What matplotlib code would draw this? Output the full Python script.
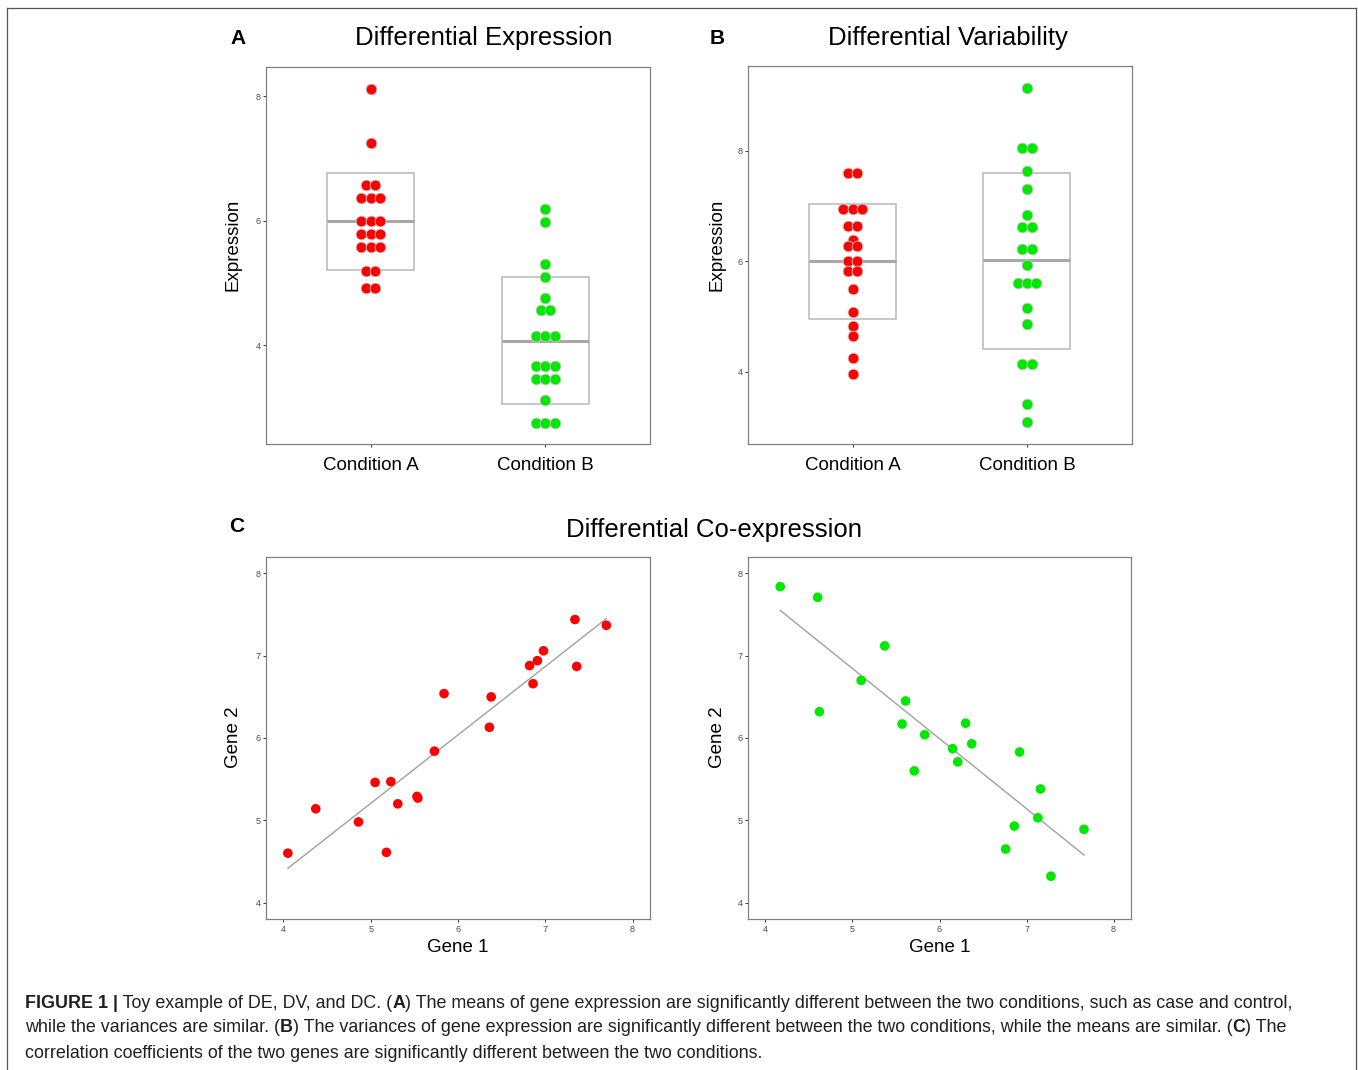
import numpy as np
import matplotlib
matplotlib.use('Agg')
import matplotlib.pyplot as plt
from matplotlib.patches import Rectangle
from matplotlib.lines import Line2D

# ---------------- data ----------------
categories = ['Condition A', 'Condition B']

# Panel A: differential expression
de_cond_a = [8.12, 7.25, 6.57, 6.57, 6.36, 6.36, 6.36, 6.00, 6.00, 6.00,
             5.78, 5.78, 5.78, 5.58, 5.58, 5.58, 5.19, 5.19, 4.91, 4.91]
de_cond_b = [6.19, 5.98, 5.30, 5.09, 4.75, 4.57, 4.57, 4.15, 4.15, 4.15,
             3.66, 3.66, 3.66, 3.45, 3.45, 3.45, 3.11, 2.75, 2.75, 2.75]
de_box_low = [5.21, 3.06]
de_box_mid = [6.00, 4.07]
de_box_high = [6.77, 5.09]

# Panel B: differential variability
dv_cond_a = [7.59, 7.59, 6.94, 6.94, 6.94, 6.63, 6.63, 6.39, 6.27, 6.27,
             6.00, 6.00, 5.82, 5.82, 5.50, 5.08, 4.82, 4.64, 4.25, 3.95]
dv_cond_b = [9.14, 8.04, 8.04, 7.63, 7.30, 6.83, 6.61, 6.61, 6.22, 6.22,
             5.93, 5.61, 5.61, 5.61, 5.15, 4.86, 4.14, 4.14, 3.42, 3.08]
dv_box_low = [4.96, 4.41]
dv_box_mid = [6.00, 6.02]
dv_box_high = [7.04, 7.60]

# Panel C: differential co-expression
dc_a_gene1 = [4.05, 4.37, 4.86, 5.05, 5.18, 5.23, 5.31, 5.53, 5.54, 5.73,
              5.84, 6.36, 6.38, 6.82, 6.86, 6.91, 6.98, 7.34, 7.36, 7.70]
dc_a_gene2 = [4.60, 5.14, 4.98, 5.46, 4.61, 5.47, 5.20, 5.29, 5.27, 5.84,
              6.54, 6.13, 6.50, 6.88, 6.66, 6.94, 7.06, 7.44, 6.87, 7.37]
dc_b_gene1 = [4.17, 4.60, 4.62, 5.10, 5.37, 5.57, 5.61, 5.71, 5.83, 6.15,
              6.21, 6.30, 6.37, 6.76, 6.86, 6.92, 7.13, 7.16, 7.28, 7.66]
dc_b_gene2 = [7.84, 7.71, 6.32, 6.70, 7.12, 6.17, 6.45, 5.60, 6.04, 5.87,
              5.71, 6.18, 5.93, 4.65, 4.93, 5.83, 5.03, 5.38, 4.32, 4.89]

de_ticks = [4, 6, 8]
dv_ticks = [4, 6, 8]
dc_ticks = [4, 5, 6, 7, 8]

titles = ['Differential Expression', 'Differential Variability', 'Differential Co-expression']
panel_letters = ['A', 'B', 'C']

caption_lines = [
    [("FIGURE 1 |", True), (" Toy example of DE, DV, and DC. (", False), ("A", True),
     (") The means of gene expression are significantly different between the two conditions, such as case and control,", False)],
    [("while the variances are similar. (", False), ("B", True),
     (") The variances of gene expression are significantly different between the two conditions, while the means are similar. (", False),
     ("C", True), (") The", False)],
    [("correlation coefficients of the two genes are significantly different between the two conditions.", False)],
]

# ---------------- style ----------------
RED = '#FF0000'
GREEN = '#00E800'
SPINE = '#808080'
TICKC = '#4d4d4d'
FONT = ['Liberation Sans', 'DejaVu Sans']
plt.rcParams['font.family'] = FONT

W, H = 1358, 1070
fig = plt.figure(figsize=(W / 100, H / 100), dpi=100)


def fx(x):
    return x / W


def fy(y):
    return 1 - y / H


def add_ax(x0, y0, x1, y1):
    ax = fig.add_axes([fx(x0), fy(y1), (x1 - x0) / W, (y1 - y0) / H])
    for s in ax.spines.values():
        s.set_color(SPINE)
        s.set_linewidth(0.9)
    ax.tick_params(axis='both', colors='#333333', labelcolor=TICKC, labelsize=6.5,
                   length=2.5, width=0.7, pad=1.5)
    return ax


def stacked_offsets(values, step):
    vals = np.asarray(values)
    offs = np.zeros(len(vals))
    for v in np.unique(vals):
        idx = np.where(vals == v)[0]
        n = len(idx)
        offs[idx] = (np.arange(n) - (n - 1) / 2) * step
    return offs


def dot_panel(ax, groups, colors, low, mid, high, ylim, yticks):
    for i, (vals, c) in enumerate(zip(groups, colors)):
        xpos = i + 1
        ax.add_patch(Rectangle((xpos - 0.25, low[i]), 0.5, high[i] - low[i],
                               fill=False, edgecolor='#b8b8b8', linewidth=1.1, zorder=2))
        ax.plot([xpos - 0.25, xpos + 0.25], [mid[i], mid[i]], color='#a8a8a8',
                linewidth=2.2, solid_capstyle='butt', zorder=2.5)
        offs = stacked_offsets(vals, 0.0535)
        ax.scatter(xpos + offs, vals, s=60, color=c, edgecolors='#c8c8c8',
                   linewidths=0.6, zorder=3)
    ax.set_xlim(0.4, 2.6)
    ax.set_ylim(*ylim)
    ax.set_yticks(yticks)
    ax.set_xticks([1, 2])
    ax.set_xticklabels(categories)
    ax.tick_params(axis='x', labelsize=13.5, labelcolor='black', pad=7)


def scatter_panel(ax, x, y, c):
    ax.scatter(x, y, s=48, color=c, edgecolors='none', zorder=3)
    k, b = np.polyfit(x, y, 1)
    xs = np.array([min(x), max(x)])
    ax.plot(xs, k * xs + b, color='#a0a0a0', linewidth=1.0, zorder=2)
    ax.set_xlim(3.8, 8.2)
    ax.set_ylim(3.8, 8.2)
    ax.set_xticks(dc_ticks)
    ax.set_yticks(dc_ticks)


# Panel A
axA = add_ax(266, 67, 650, 444)
dot_panel(axA, [de_cond_a, de_cond_b], [RED, GREEN], de_box_low, de_box_mid, de_box_high,
          (2.41, 8.47), de_ticks)
# Panel B
axB = add_ax(748, 66, 1131.5, 444)
dot_panel(axB, [dv_cond_a, dv_cond_b], [RED, GREEN], dv_box_low, dv_box_mid, dv_box_high,
          (2.69, 9.53), dv_ticks)
# Panel C
axC1 = add_ax(266, 557, 650, 919)
scatter_panel(axC1, dc_a_gene1, dc_a_gene2, RED)
axC2 = add_ax(748, 557, 1131, 919)
scatter_panel(axC2, dc_b_gene1, dc_b_gene2, GREEN)

# Titles, letters, labels
fig.text(fx(484), fy(38), titles[0], ha='center', va='center', fontsize=18.5)
fig.text(fx(948), fy(38), titles[1], ha='center', va='center', fontsize=18.5)
fig.text(fx(714), fy(530), titles[2], ha='center', va='center', fontsize=18.5)
fig.text(fx(238), fy(38), panel_letters[0], ha='center', va='center', fontsize=15, fontweight='bold')
fig.text(fx(717), fy(38), panel_letters[1], ha='center', va='center', fontsize=15, fontweight='bold')
fig.text(fx(237), fy(527), panel_letters[2], ha='center', va='center', fontsize=15, fontweight='bold')

for xx in (233, 717):
    fig.text(fx(xx), fy(245), 'Expression', ha='center', va='center', rotation=90, fontsize=13.5)
    fig.text(fx(xx + 1), fy(737), 'Gene 2', ha='center', va='center', rotation=90, fontsize=13.5)
fig.text(fx(458), fy(947), 'Gene 1', ha='center', va='center', fontsize=13.5)
fig.text(fx(940), fy(947), 'Gene 1', ha='center', va='center', fontsize=13.5)

# Outer frame
for (x0, y0, x1, y1) in [(7, H, 7, 8), (7, 8, 1356, 8), (1356, 8, 1356, H)]:
    fig.add_artist(Line2D([fx(x0), fx(x1)], [fy(y0), fy(y1)], color='#555555', linewidth=0.9))

# Caption with mixed weights
renderer = fig.canvas.get_renderer()
CAP_FONT = ['Liberation Sans Narrow', 'Liberation Sans', 'DejaVu Sans']
CAP_COLOR = '#231f20'


def seg_width(s, bold, size):
    t1 = fig.text(0, 0, 'l' + s + 'l', fontsize=size, family=CAP_FONT,
                  fontweight='bold' if bold else 'normal')
    t2 = fig.text(0, 0, 'll', fontsize=size, family=CAP_FONT,
                  fontweight='bold' if bold else 'normal')
    w = t1.get_window_extent(renderer).width - t2.get_window_extent(renderer).width
    t1.remove()
    t2.remove()
    return w


base = 14.0
w1 = sum(seg_width(s, b, base) for s, b in caption_lines[0])
cap_size = base * (1277 / w1)

for li, line in enumerate(caption_lines):
    x = 25
    y = 1003 + 25 * li
    for s, b in line:
        fig.text(fx(x), fy(y), s, ha='left', va='center', fontsize=cap_size, family=CAP_FONT,
                 fontweight='bold' if b else 'normal', color=CAP_COLOR)
        x += seg_width(s, b, cap_size)

fig.savefig('out.png', dpi=100)
